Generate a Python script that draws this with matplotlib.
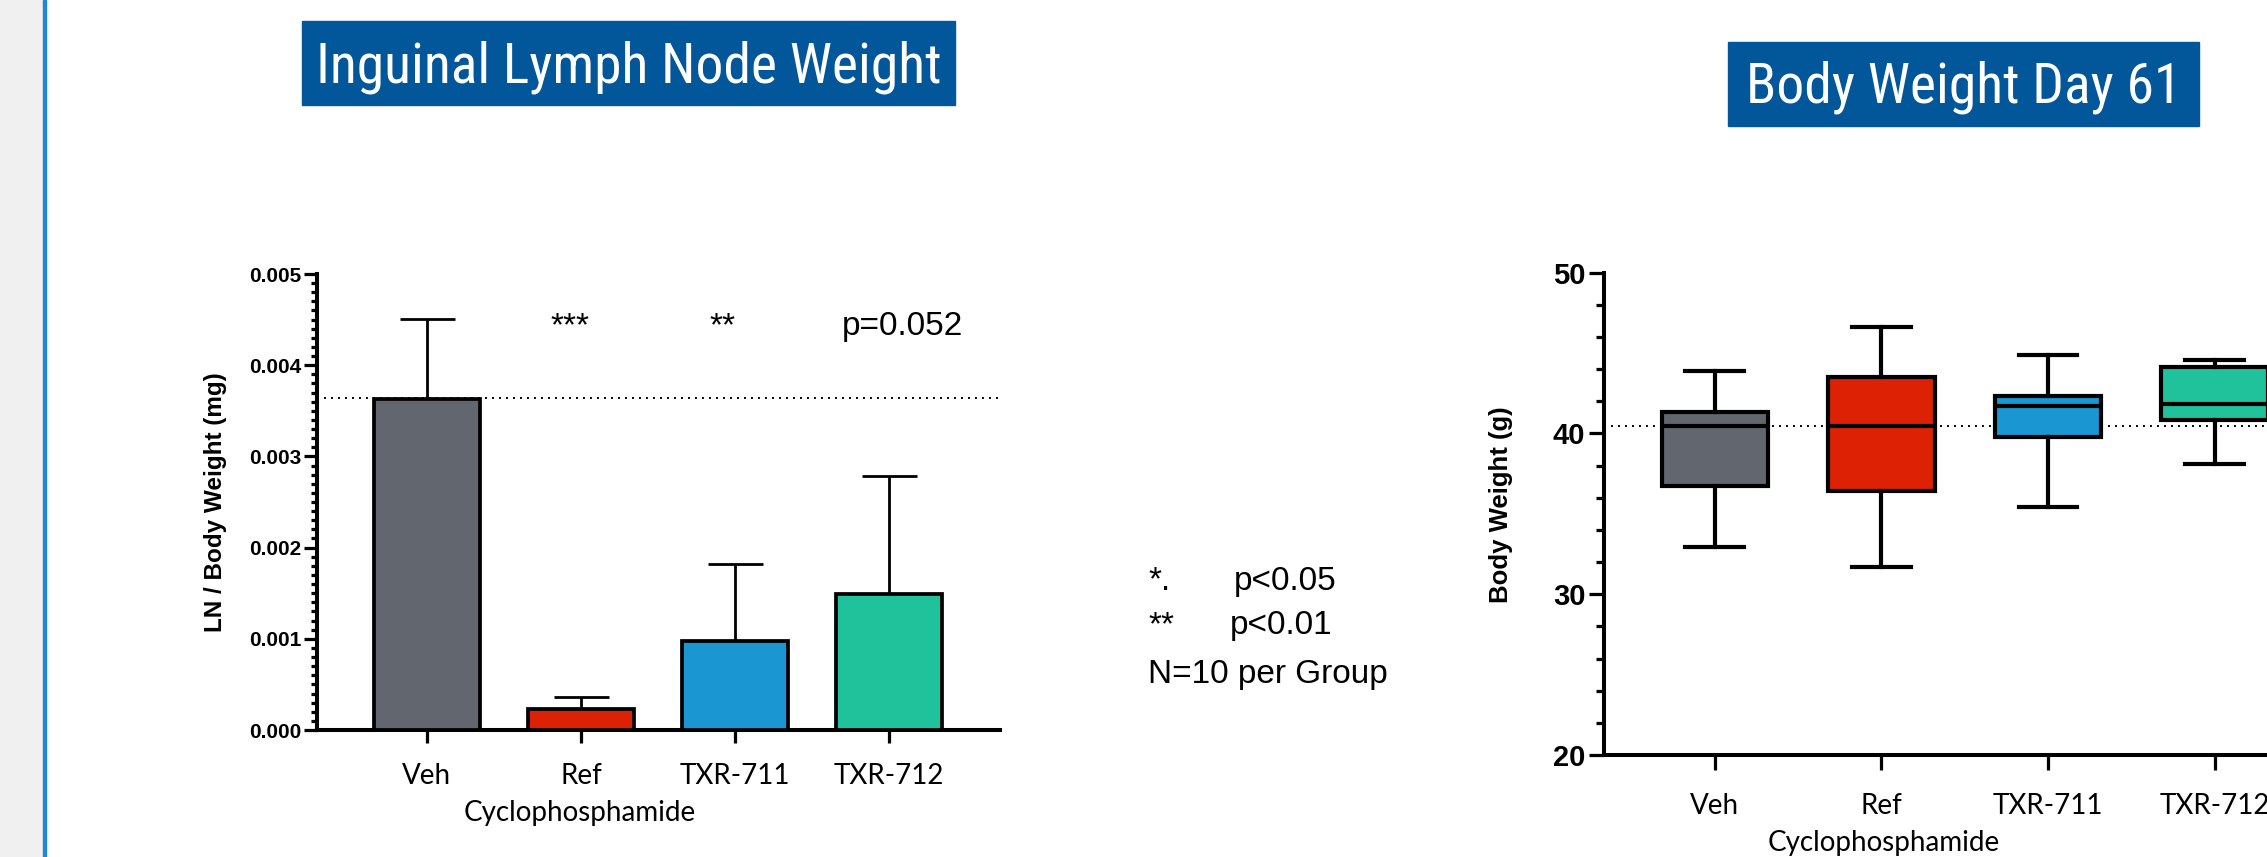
import matplotlib
matplotlib.use("Agg")
import matplotlib.pyplot as plt
from matplotlib.patches import Rectangle
from matplotlib.ticker import MultipleLocator, FormatStrFormatter
from matplotlib import font_manager

W, H, DPI = 2267, 857, 100

groups = ["Veh", "Ref", "TXR-711", "TXR-712"]
colors = ["#62666e", "#dc2104", "#1a96d3", "#20c29b"]

# LN / body weight: mean and upper SD
ln_mean = [0.00363, 0.00023, 0.00098, 0.00149]
ln_sd = [0.00088, 0.00013, 0.00084, 0.00129]
ln_ref = 0.00364
ln_stars = ["***", "**"]
ln_pval = "p=0.052"

# body weight day 61, box plot stats
bw_whislo = [32.95, 31.7, 35.45, 38.1]
bw_q1 = [36.7, 36.4, 39.75, 40.8]
bw_med = [40.45, 40.45, 41.7, 41.8]
bw_q3 = [41.3, 43.5, 42.3, 44.1]
bw_whishi = [43.9, 46.6, 44.9, 44.55]
bw_ref = 40.45

_installed = {f.name for f in font_manager.fontManager.ttflist}


def pick(*names):
    for n in names:
        if n in _installed:
            return n
    return "DejaVu Sans"


ARIAL = pick("Liberation Sans", "Arial")
NARROW = pick("Liberation Sans Narrow", "Roboto Condensed", "Liberation Sans")
LATO = pick("Lato", "Open Sans")


def fx(x):
    return x / W


def fy(y):
    return 1 - y / H


fig = plt.figure(figsize=(W / DPI, H / DPI), dpi=DPI)
fig.patch.set_facecolor("white")

# side strip of the slide
fig.add_artist(Rectangle((0, 0), fx(43), 1, transform=fig.transFigure,
                         color="#f0f0f0", zorder=0))
fig.add_artist(Rectangle((fx(43), 0), fx(2.5), 1, transform=fig.transFigure,
                         color="#1f88d2", zorder=0))

# title boxes
for (x0, x1, y0, y1), title in [((302, 955, 21, 105), "Inguinal Lymph Node Weight"),
                                ((1728, 2199, 41.5, 126), "Body Weight Day 61")]:
    fig.add_artist(Rectangle((fx(x0), fy(y1)), (x1 - x0) / W, (y1 - y0) / H,
                             transform=fig.transFigure, color="#02569a"))
    fig.text(fx((x0 + x1) / 2), fy((y0 + y1) / 2 + 19), title, color="white",
             fontsize=40, family=NARROW, ha="center", va="baseline")


def style_axes(ax, lw, major_len, minor_len, tick_fs, xpad):
    for s in ("top", "right"):
        ax.spines[s].set_visible(False)
    for s in ("left", "bottom"):
        ax.spines[s].set_linewidth(lw)
    ax.tick_params(axis="y", which="major", length=major_len, width=lw * 0.8,
                   pad=2, labelsize=tick_fs)
    ax.tick_params(axis="y", which="minor", length=minor_len, width=lw * 0.8)
    ax.tick_params(axis="x", which="major", length=major_len, width=lw * 0.8,
                   pad=xpad, labelsize=20)
    for lab in ax.get_yticklabels():
        lab.set_fontweight("bold")
        lab.set_family(ARIAL)
    for lab in ax.get_xticklabels():
        lab.set_family(LATO)


x = list(range(len(groups)))

# ---- left: inguinal lymph node weight
ax1 = fig.add_axes([fx(317), fy(730), (1000 - 317) / W, (730 - 274) / H])
ax1.axhline(ln_ref, color="black", lw=1.4, linestyle=(0, (1, 2.6)), zorder=1)
ax1.errorbar(x, ln_mean, yerr=[[0] * len(x), ln_sd], fmt="none", ecolor="black",
             elinewidth=2.0, capsize=19.8, capthick=2.0, zorder=2)
ax1.bar(x, ln_mean, width=0.69, color=colors, edgecolor="black", linewidth=2.7, zorder=3)
ax1.set_xlim(-0.714, 3.72)
ax1.set_ylim(0, 0.005)
ax1.yaxis.set_major_locator(MultipleLocator(0.001))
ax1.yaxis.set_minor_locator(MultipleLocator(0.0001))
ax1.yaxis.set_major_formatter(FormatStrFormatter("%.3f"))
ax1.set_xticks(x, groups)
style_axes(ax1, 2.9, 9.5, 4.5, 15, 14)
ax1.set_ylabel("LN / Body Weight (mg)", fontsize=17.5, fontweight="bold", family=ARIAL)
ax1.yaxis.set_label_coords(-0.149, 0.5)
ax1.yaxis.label.set_va("center")
ax1.set_xlabel("Cyclophosphamide", fontsize=20, family=LATO)
ax1.xaxis.set_label_coords(0.385, -0.182)
ax1.xaxis.label.set_va("center")
ax1.text(0.93, 0.00433, ln_stars[0], ha="center", va="baseline", fontsize=24, family=ARIAL)
ax1.text(1.92, 0.00433, ln_stars[1], ha="center", va="baseline", fontsize=24, family=ARIAL)
ax1.text(2.695, 0.00433, ln_pval, ha="left", va="baseline", fontsize=24, family=ARIAL)

# significance key
for xp, yp, txt in [(1148, 590, "*."), (1234, 590, "p<0.05"),
                    (1148, 634, "**"), (1230, 634, "p<0.01"),
                    (1148, 683, "N=10 per Group")]:
    fig.text(fx(xp), fy(yp), txt, fontsize=24, family=ARIAL, ha="left", va="baseline")

# ---- right: body weight day 61
ax2 = fig.add_axes([fx(1603.5), fy(755), (W - 1603.5) / W, (755 - 272.5) / H])
ax2.axhline(bw_ref, color="black", lw=1.4, linestyle=(0, (1, 2.6)), zorder=1)
stats = [dict(med=m, q1=a, q3=b, whislo=lo, whishi=hi, fliers=[])
         for m, a, b, lo, hi in zip(bw_med, bw_q1, bw_q3, bw_whislo, bw_whishi)]
lw2 = 3.0
bp = ax2.bxp(stats, positions=x, widths=0.64, capwidths=0.354, patch_artist=True,
             showfliers=False, manage_ticks=False,
             boxprops=dict(linewidth=lw2, edgecolor="black"),
             whiskerprops=dict(linewidth=lw2, color="black"),
             capprops=dict(linewidth=lw2, color="black"),
             medianprops=dict(linewidth=lw2, color="black"), zorder=3)
for patch, c in zip(bp["boxes"], colors):
    patch.set_facecolor(c)
ax2.set_xlim(-0.669, 3.315)
ax2.set_ylim(20, 50)
ax2.yaxis.set_major_locator(MultipleLocator(10))
ax2.yaxis.set_minor_locator(MultipleLocator(2))
ax2.yaxis.set_major_formatter(FormatStrFormatter("%d"))
ax2.set_xticks(x, groups)
style_axes(ax2, 2.9, 11, 6, 21, 16)
ax2.set_ylabel("Body Weight (g)", fontsize=18.5, fontweight="bold", family=ARIAL)
ax2.yaxis.set_label_coords(-0.155, 0.518)
ax2.yaxis.label.set_va("center")
ax2.set_xlabel("Cyclophosphamide", fontsize=20, family=LATO)
ax2.xaxis.set_label_coords(0.422, -0.182)
ax2.xaxis.label.set_va("center")

fig.savefig("out.png", dpi=DPI)
